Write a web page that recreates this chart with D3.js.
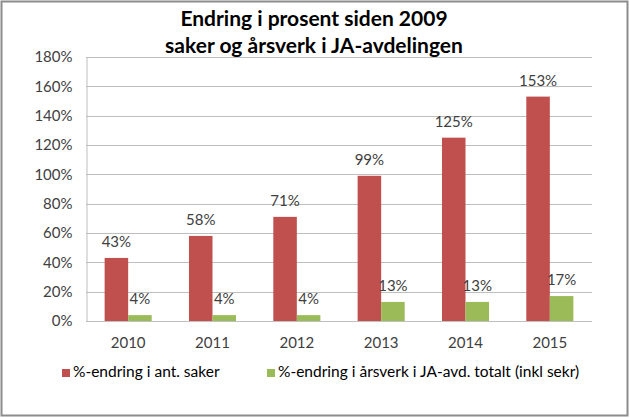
<!DOCTYPE html>
<html><head><meta charset="utf-8">
<script src="https://cdn.jsdelivr.net/npm/d3@7"></script>
<style>
html,body{margin:0;padding:0;background:#fff;}
text{font-family:Lato,"Open Sans",sans-serif;}
</style></head>
<body>
<svg id="c" width="630" height="418"></svg>
<script>
const years = ["2010","2011","2012","2013","2014","2015"];
const saker = [43, 58, 71, 99, 125, 153];
const aarsverk = [4, 4, 4, 13, 13, 17];
const seriesNames = ["%-endring i ant. saker", "%-endring i årsverk i JA-avd. totalt (inkl sekr)"];
const yTicks = [0,20,40,60,80,100,120,140,160,180];
const colors = ["#C0504D", "#9BBB59"];
const titleLines = ["Endring i prosent siden 2009", "saker og årsverk i JA-avdelingen"];

const svg = d3.select("#c");
const W = 630, H = 418;
svg.append("rect").attr("x",1.5).attr("y",1.5).attr("width",W-4).attr("height",H-4)
  .attr("fill","#fff").attr("stroke","#8c8c8c").attr("stroke-width",2);

const m = {left:86, right:592, top:57, bottom:321};
const x0 = d3.scaleBand().domain(years).range([m.left, m.right]);
const bw = x0.bandwidth()*0.279;
const y = d3.scaleLinear().domain([0,180]).range([m.bottom, m.top]);

// gridlines
svg.append("g").selectAll("line").data(yTicks).join("line")
  .attr("x1", m.left).attr("x2", m.right)
  .attr("y1", d=>Math.round(y(d))+0.5).attr("y2", d=>Math.round(y(d))+0.5)
  .attr("stroke","#BFBFBF").attr("stroke-width",1);
// left axis
const yAxis = d3.axisLeft(y).tickValues(yTicks).tickSize(0).tickPadding(14).tickFormat(d=>d+"%");
const ga = svg.append("g").attr("transform",`translate(${m.left+0.5},0)`).call(yAxis);
ga.select(".domain").attr("stroke","#BFBFBF");
ga.selectAll("text").attr("font-size",15).attr("fill","#404040").attr("font-family","Lato");

const xAxis = d3.axisBottom(x0).tickSize(0).tickPadding(16);
const gx = svg.append("g").attr("transform",`translate(0,${m.bottom})`).call(xAxis);
gx.select(".domain").remove();
gx.selectAll("text").attr("font-size",15).attr("fill","#404040").attr("font-family","Lato");

const series = [saker, aarsverk];
series.forEach((vals, si)=>{
  const g = svg.append("g");
  g.selectAll("rect").data(vals).join("rect")
    .attr("x",(d,i)=>x0(years[i])+x0.bandwidth()/2 - bw + si*bw)
    .attr("y",d=>y(d)).attr("width",bw).attr("height",d=>m.bottom-y(d))
    .attr("fill",colors[si]);
  g.selectAll("text").data(vals).join("text")
    .attr("x",(d,i)=>x0(years[i])+x0.bandwidth()/2 - bw + si*bw + bw/2)
    .attr("y",d=>y(d)-11)
    .attr("text-anchor","middle").attr("font-size",15).attr("fill","#404040")
    .text(d=>d+"%");
});

// title
svg.selectAll(".title").data(titleLines).join("text").attr("class","title")
  .attr("x",314).attr("y",(d,i)=>26+i*27).attr("text-anchor","middle")
  .attr("font-size",21).attr("font-weight","bold").attr("fill","#000").text(d=>d);

// legend
const legX = [62, 267];
const lg = svg.append("g");
seriesNames.forEach((n,i)=>{
  lg.append("rect").attr("x",legX[i]).attr("y",369).attr("width",8).attr("height",8).attr("fill",colors[i]);
  lg.append("text").attr("x",legX[i]+11).attr("y",377).attr("font-size",15.5).attr("fill","#000").text(n);
});
</script>
</body></html>
